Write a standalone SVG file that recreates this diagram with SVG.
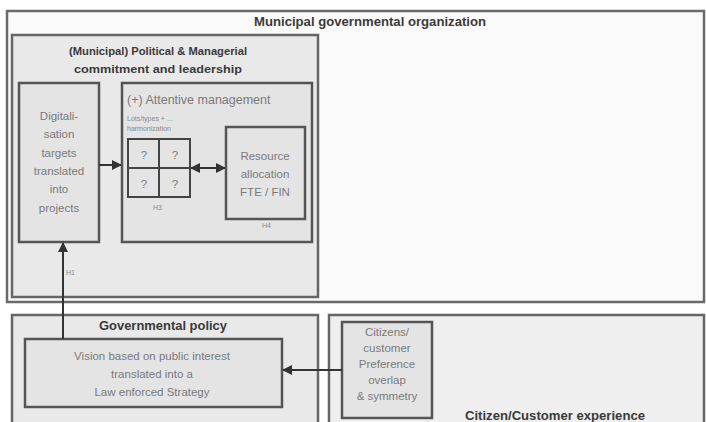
<svg xmlns="http://www.w3.org/2000/svg" width="706" height="422" viewBox="0 0 706 422">
<style>
.frame{fill:#fafafa;stroke:#6a6a6a;stroke-width:2.5}
.panel{fill:#e9e9e9;stroke:#666;stroke-width:2.5}
.box{fill:#e4e4e4;stroke:#555;stroke-width:2.5}
.title{font-family:"Liberation Sans",Arial,sans-serif;font-weight:bold;font-size:12px;fill:#3a3a3a;text-anchor:middle}
.txt{font-family:"Liberation Sans",Arial,sans-serif;font-size:11.5px;fill:#7a7a7a;text-anchor:middle}
.small{font-family:"Liberation Sans",Arial,sans-serif;font-size:7px;fill:#8a8a8a}
.conn{stroke:#333;stroke-width:2;fill:none}
</style>
<defs>
<marker id="ah" viewBox="0 0 10 10" refX="9" refY="5" markerWidth="5" markerHeight="5" orient="auto-start-reverse">
<path d="M0,0 L10,5 L0,10 z" fill="#333"/>
</marker>
</defs>
<rect width="706" height="422" fill="#ffffff"/>
<g id="municipal-org">
<rect class="frame" x="7" y="11" width="697" height="291"/>
<text class="title" x="370" y="26" textLength="232" lengthAdjust="spacingAndGlyphs">Municipal governmental organization</text>
</g>
<g id="leadership">
<rect class="panel" x="12" y="35" width="306" height="262"/>
<text class="title" x="158" y="55" style="font-size:11.5px" textLength="178" lengthAdjust="spacingAndGlyphs">(Municipal) Political &amp; Managerial</text>
<text class="title" x="158" y="73" style="font-size:11.5px" textLength="168" lengthAdjust="spacingAndGlyphs">commitment and leadership</text>
<text class="small" x="66" y="275">H1</text>
</g>
<g id="digitalisation">
<rect class="box" x="19" y="83" width="80" height="159"/>
<text class="txt" x="59" y="120">Digitali-</text>
<text class="txt" x="59" y="138">sation</text>
<text class="txt" x="59" y="157">targets</text>
<text class="txt" x="59" y="175">translated</text>
<text class="txt" x="59" y="193">into</text>
<text class="txt" x="59" y="212">projects</text>
</g>
<g id="attentive">
<rect class="box" x="122" y="83" width="190" height="159"/>
<text class="txt" x="127" y="104" style="text-anchor:start;font-size:12.5px">(+)  Attentive management</text>
<text class="small" x="127" y="121">Lots/types + ...</text>
<text class="small" x="127" y="131">harmonization</text>
<text class="small" x="153" y="210">H3</text>
</g>
<g id="grid">
<rect x="128" y="139" width="62" height="58" fill="#e4e4e4" stroke="#444" stroke-width="2"/>
<line x1="159" y1="139" x2="159" y2="197" stroke="#444" stroke-width="2"/>
<line x1="128" y1="168" x2="190" y2="168" stroke="#444" stroke-width="2"/>
<text class="txt" x="144" y="159">?</text>
<text class="txt" x="175" y="159">?</text>
<text class="txt" x="144" y="188">?</text>
<text class="txt" x="175" y="188">?</text>
</g>
<g id="resource">
<rect class="box" x="226" y="127" width="79" height="92"/>
<text class="txt" x="265" y="160">Resource</text>
<text class="txt" x="265" y="178">allocation</text>
<text class="txt" x="265" y="196">FTE / FIN</text>
<text class="small" x="262" y="228">H4</text>
</g>
<g id="gov-policy">
<rect class="panel" x="12" y="315" width="306" height="110"/>
<text class="title" x="163" y="330" textLength="128" lengthAdjust="spacingAndGlyphs">Governmental policy</text>
</g>
<g id="vision">
<rect class="box" x="25" y="339" width="257" height="68"/>
<text class="txt" x="152" y="360">Vision based on public interest</text>
<text class="txt" x="152" y="378">translated into a</text>
<text class="txt" x="152" y="396">Law enforced Strategy</text>
</g>
<g id="citizen-exp">
<rect class="panel" x="329" y="315" width="375" height="110" style="fill:#efefef"/>
<text class="title" x="555" y="420" textLength="180" lengthAdjust="spacingAndGlyphs">Citizen/Customer experience</text>
</g>
<g id="preference">
<rect class="box" x="342" y="322" width="90" height="96"/>
<text class="txt" x="387" y="336">Citizens/</text>
<text class="txt" x="387" y="352">customer</text>
<text class="txt" x="387" y="368">Preference</text>
<text class="txt" x="387" y="384">overlap</text>
<text class="txt" x="387" y="400">&amp; symmetry</text>
</g>
<g id="connectors">
<line class="conn" x1="99" y1="165" x2="121" y2="165" marker-end="url(#ah)"/>
<line class="conn" x1="191" y1="168" x2="225" y2="168" marker-start="url(#ah)" marker-end="url(#ah)"/>
<line class="conn" x1="63" y1="339" x2="63" y2="243" marker-end="url(#ah)"/>
<line class="conn" x1="342" y1="370" x2="283" y2="370" marker-end="url(#ah)"/>
</g>
</svg>
